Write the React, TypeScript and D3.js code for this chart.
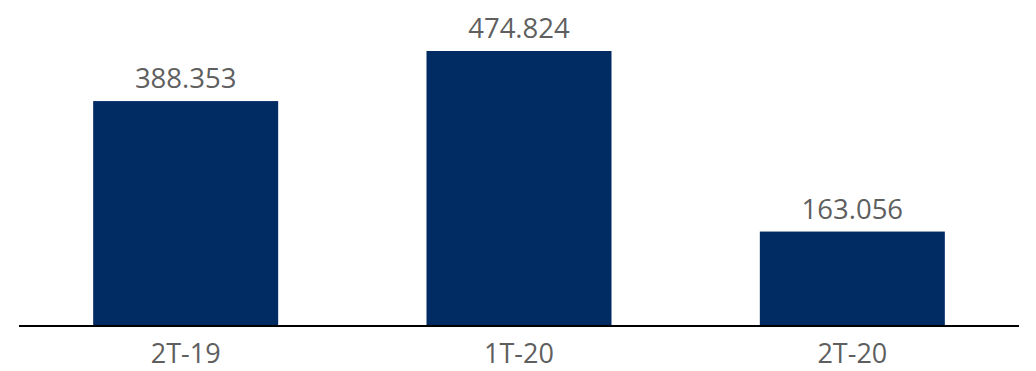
import React from "react";
import * as d3 from "d3";

const categories = ["2T-19", "1T-20", "2T-20"];
const values = [388.353, 474.824, 163.056];
const valueLabels = ["388.353", "474.824", "163.056"];

const W = 1036;
const H = 371;

export default function App() {
  const x = d3.scaleBand<string>().domain(categories).range([19, 1019]).paddingInner(0.445).paddingOuter(0.2225);
  const y = d3.scaleLinear().domain([0, 474.824]).range([326, 51]);
  const font = "'Open Sans', sans-serif";
  return (
    <svg width={W} height={H} style={{ position: "absolute", left: 0, top: 0 }}>
      {categories.map((c, i) => (
        <g key={c}>
          <rect x={x(c)} y={y(values[i])} width={x.bandwidth()} height={y(0) - y(values[i])} fill="#002B63" />
          <text x={(x(c) as number) + x.bandwidth() / 2} y={y(values[i]) - 13} textAnchor="middle" fontFamily={font} fontSize={27.5} fill="#5f5f5f">
            {valueLabels[i]}
          </text>
          <text x={(x(c) as number) + x.bandwidth() / 2} y={363} textAnchor="middle" fontFamily={font} fontSize={27} fill="#5f5f5f">
            {c}
          </text>
        </g>
      ))}
      <line x1={19} x2={1019} y1={y(0)} y2={y(0)} stroke="#000" strokeWidth={2} />
    </svg>
  );
}
